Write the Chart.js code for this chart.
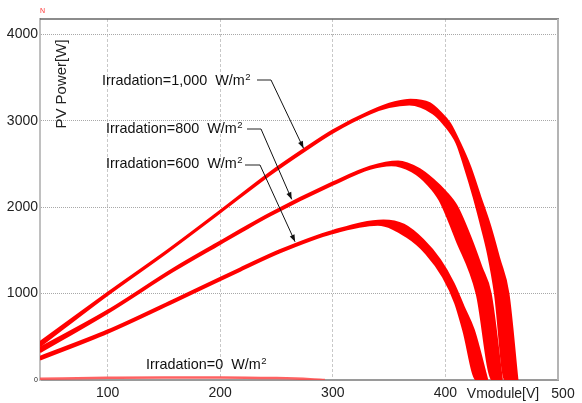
<!DOCTYPE html>
<html>
<head>
<meta charset="utf-8">
<script src="https://cdn.jsdelivr.net/npm/chart.js@4.4.0/dist/chart.umd.min.js"></script>
<style>
  html, body { margin: 0; padding: 0; background: #fff; }
</style>
</head>
<body>
<canvas id="pv" width="582" height="403"></canvas>
<script>
// PV power vs module voltage at several irradiance levels
// each irradiance is a band: outer edge (a) and inner edge (b), filled between

const xTicks = [100, 200, 300, 400];
const yTicks = [0, 1000, 2000, 3000, 4000];

// 1000 W/m2
const volt1000a = [40, 100, 153, 200, 244, 274, 300, 333, 355, 369, 386, 395, 404, 413, 422, 431, 440, 448, 456, 464];
const pow1000a  = [440, 1010, 1500, 1960, 2400, 2670, 2890, 3110, 3215, 3245, 3205, 3107, 2972, 2741, 2470, 2122, 1775, 1400, 1000, 0];
const volt1000b = [40, 100, 153, 200, 244, 274, 300, 333, 350, 368, 389, 398, 410, 417, 425, 432, 438, 444, 453, 464];
const pow1000b  = [390, 985, 1480, 1940, 2375, 2645, 2865, 3085, 3160, 3190, 3088, 2972, 2741, 2470, 2122, 1775, 1450, 1000, 0, 0];

// 800 W/m2
const volt800a = [40, 100, 158, 200, 218, 244, 300, 333, 358, 377, 389, 400, 410, 423, 432, 440, 450];
const pow800a  = [370, 800, 1282, 1600, 1735, 1925, 2284, 2468, 2528, 2440, 2320, 2180, 2010, 1621, 1300, 1000, 0];
const volt800b = [40, 100, 158, 200, 218, 244, 300, 333, 352, 370, 385, 395, 410, 428, 442, 450];
const pow800b  = [325, 780, 1262, 1580, 1715, 1905, 2264, 2448, 2490, 2420, 2260, 2084, 1621, 1000, 0, 0];

// 600 W/m2
const volt600a = [40, 100, 158, 200, 218, 253, 300, 345, 363, 380, 395, 407, 416, 425, 437];
const pow600a  = [265, 570, 920, 1180, 1290, 1500, 1724, 1845, 1795, 1621, 1389, 1120, 849, 579, 0];
const volt600b = [40, 100, 158, 200, 218, 253, 300, 340, 366, 383, 398, 409, 416, 428, 437];
const pow600b  = [240, 550, 900, 1160, 1270, 1480, 1704, 1800, 1659, 1467, 1196, 888, 579, 0, 0];

// 0 W/m2
const volt0 = [40, 100, 150, 200, 250, 280, 293];
const pow0  = [15, 25, 30, 30, 22, 10, 0];

const FONT = '"Liberation Sans", Arial, sans-serif';
const RED = '#ff0000';

const pts = (vs, ps) => vs.map((v, i) => ({ x: v, y: ps[i] }));

function trace(vs, ps, color, width, fill) {
  return {
    data: pts(vs, ps),
    borderColor: color,
    backgroundColor: color,
    borderWidth: width,
    pointRadius: 0,
    fill: fill || false,
    cubicInterpolationMode: 'monotone'
  };
}

// labels with leader arrows; tip given in data units
const notes = [
  { text: 'Irradation=1,000  W/m', x: 102, y: 85, lx1: 257, lx2: 271, ly: 80, tip: [274, 2683] },
  { text: 'Irradation=800  W/m',   x: 106, y: 133, lx1: 247, lx2: 261, ly: 129, tip: [263.5, 2092] },
  { text: 'Irradation=600  W/m',   x: 106, y: 168, lx1: 245, lx2: 260, ly: 165, tip: [266.5, 1601] },
  { text: 'Irradation=0  W/m',     x: 146, y: 369 }
];

const extras = {
  id: 'extras',
  afterDraw(chart) {
    const { ctx, chartArea: a, scales: { x, y } } = chart;
    ctx.save();

    // frame top / right
    ctx.strokeStyle = '#666';
    ctx.lineWidth = 1.5;
    ctx.beginPath(); ctx.moveTo(a.left, a.top); ctx.lineTo(a.right + 1, a.top); ctx.stroke();
    ctx.strokeStyle = '#b4b4b4';
    ctx.lineWidth = 2;
    ctx.beginPath(); ctx.moveTo(a.right, a.top); ctx.lineTo(a.right, a.bottom); ctx.stroke();

    // y title inside plot
    ctx.fillStyle = '#222';
    ctx.font = '15px ' + FONT;
    ctx.save();
    ctx.translate(66, 84);
    ctx.rotate(-Math.PI / 2);
    ctx.textAlign = 'center';
    ctx.textBaseline = 'alphabetic';
    ctx.fillText('PV Power[W]', 0, 0);
    ctx.restore();

    // x axis extra labels
    ctx.font = '14px ' + FONT;
    ctx.textAlign = 'center';
    ctx.textBaseline = 'middle';
    ctx.fillText('Vmodule[V]', 503, 394);
    ctx.fillText('500', 563, 394);

    // little red mark top-left
    ctx.fillStyle = '#ff3030';
    ctx.font = '7px ' + FONT;
    ctx.textAlign = 'left';
    ctx.textBaseline = 'alphabetic';
    ctx.fillText('N', 40, 13);

    // annotations
    notes.forEach(n => {
      ctx.fillStyle = '#111';
      ctx.font = '14.4px ' + FONT;
      ctx.textAlign = 'left';
      ctx.textBaseline = 'alphabetic';
      ctx.fillText(n.text, n.x, n.y);
      const w = ctx.measureText(n.text).width;
      ctx.font = '9.5px ' + FONT;
      ctx.fillText('2', n.x + w + 0.5, n.y - 5);
      if (!n.tip) return;
      const tx = x.getPixelForValue(n.tip[0]);
      const ty = y.getPixelForValue(n.tip[1]);
      ctx.strokeStyle = '#555';
      ctx.lineWidth = 1.3;
      ctx.beginPath(); ctx.moveTo(n.lx1, n.ly); ctx.lineTo(n.lx2, n.ly); ctx.stroke();
      ctx.strokeStyle = '#111';
      ctx.lineWidth = 1;
      ctx.beginPath(); ctx.moveTo(n.lx2, n.ly); ctx.lineTo(tx, ty); ctx.stroke();
      const ang = Math.atan2(ty - n.ly, tx - n.lx2);
      const L = 7, H = 2.6;
      ctx.fillStyle = '#111';
      ctx.beginPath();
      ctx.moveTo(tx, ty);
      ctx.lineTo(tx - L * Math.cos(ang) + H * Math.sin(ang), ty - L * Math.sin(ang) - H * Math.cos(ang));
      ctx.lineTo(tx - L * Math.cos(ang) - H * Math.sin(ang), ty - L * Math.sin(ang) + H * Math.cos(ang));
      ctx.closePath();
      ctx.fill();
    });

    ctx.restore();
  }
};

new Chart(document.getElementById('pv'), {
  type: 'line',
  data: {
    datasets: [
      trace(volt0, pow0, 'rgba(255,70,70,0.85)', 2.5),
      trace(volt600a, pow600a, RED, 2.5),
      trace(volt600b, pow600b, RED, 2.5, '-1'),
      trace(volt800a, pow800a, RED, 2.5),
      trace(volt800b, pow800b, RED, 2.5, '-1'),
      trace(volt1000a, pow1000a, RED, 2),
      trace(volt1000b, pow1000b, RED, 2, '-1')
    ]
  },
  options: {
    responsive: false,
    animation: false,
    devicePixelRatio: 1,
    layout: { padding: { left: 0, right: 24, top: 19, bottom: 0 } },
    plugins: { legend: { display: false }, tooltip: { enabled: false } },
    scales: {
      x: {
        type: 'linear',
        min: 40,
        max: 500,
        afterBuildTicks: s => { s.ticks = xTicks.map(v => ({ value: v })); },
        afterFit: s => { s.height = 23; },
        grid: { color: '#c8c8c8', lineWidth: 1, drawTicks: false },
        border: { display: true, color: '#9a9a9a', width: 2, dash: [3, 2] },
        ticks: { font: { family: FONT, size: 14 }, color: '#222', padding: 5, maxRotation: 0, autoSkip: false }
      },
      y: {
        type: 'linear',
        min: 0,
        max: 4180,
        afterBuildTicks: s => { s.ticks = yTicks.map(v => ({ value: v })); },
        afterFit: s => { s.width = 40; },
        grid: { color: c => (c.tick && c.tick.value === 0 ? 'rgba(0,0,0,0)' : '#a8a8a8'), lineWidth: 1, drawTicks: false },
        border: { display: true, color: '#c0c0c0', width: 2, dash: [1, 1] },
        ticks: {
          font: c => ({ family: FONT, size: c.tick && c.tick.value === 0 ? 7 : 14 }),
          callback: v => String(v),
          color: '#222',
          padding: 2,
          autoSkip: false
        }
      }
    }
  },
  plugins: [extras]
});
</script>
</body>
</html>
